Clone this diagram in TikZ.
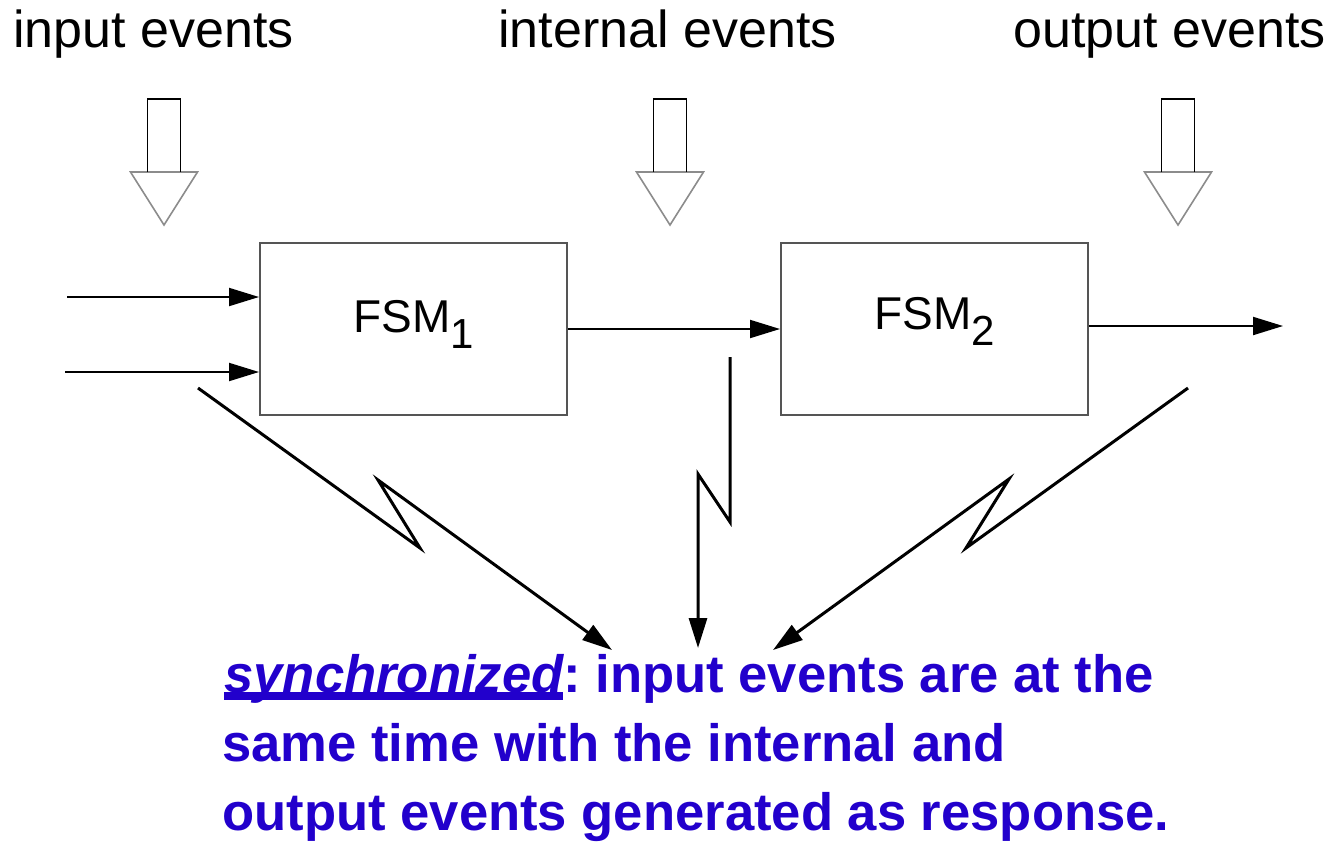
\documentclass[tikz,border=0pt]{standalone}
\usepackage{graphicx}
\usepackage{fontspec}
\setmainfont{Liberation Sans}
\usetikzlibrary{arrows.meta}
\definecolor{txtblue}{RGB}{34,0,204}
\definecolor{boxgray}{RGB}{85,85,85}
\definecolor{headgray}{RGB}{140,140,140}
\frenchspacing
\newcommand\myul[1]{\setbox0\hbox{#1}\rlap{\rule[-4pt]{\wd0}{4pt}}\box0}
\newcommand\fsmtext[1]{FSM\raisebox{-8pt}{\fontsize{21}{24}\selectfont #1}}
\begin{document}
\begin{tikzpicture}[x=0.5pt,y=-0.5pt,
  box/.style={draw=boxgray,line width=1pt,minimum width=153.5pt,minimum height=86pt,inner sep=0pt},
  lbl/.style={font=\fontsize{26}{30}\selectfont,anchor=base west,inner sep=0pt},
  fsm/.style={font=\fontsize{23}{26}\selectfont,anchor=base,inner sep=0pt},
  conn/.style={line width=1pt,-{Triangle[length=15pt,width=9pt]}},
  bolt/.style={line width=1.5pt,-{Triangle[length=15pt,width=9pt]},line join=miter},
  shaft/.style={line width=0.9pt,draw=black},
  hhead/.style={line width=0.8pt,draw=headgray,fill=white},
  note/.style={font=\fontsize{26.3}{34.5}\selectfont\bfseries,text=txtblue,anchor=base west,inner sep=0pt},
  hollowarrow/.pic={
    \draw[hhead] (-33.5,73) -- (33.5,73) -- (0,126) -- cycle;
    \draw[shaft] (-16.5,73) -- (-16.5,0) -- (16.5,0) -- (16.5,73);
  }
]
\useasboundingbox (0,0) rectangle (1336,841);

% top labels
\node[lbl] (tin)  at (13,47)  {input events};
\node[lbl] (tint) at (498,47) {internal events};
\node[lbl] (tout) at (1013,47) {output events};

% hollow arrows
\pic at (164,99) {hollowarrow};
\pic at (670,99) {hollowarrow};
\pic at (1178,99) {hollowarrow};

% boxes
\node[box] (f1) at (413.5,329) {};
\node[box] (f2) at (934.5,329) {};
\node[fsm] (l1) at (413.5,332) {\fsmtext{1}};
\node[fsm] (l2) at (934.5,329) {\fsmtext{2}};

% connectors
\coordinate (i1) at (67,297);
\coordinate (i2) at (65,372);
\coordinate (o)  at (1283,326);
\draw[conn] (i1) -- (i1 -| f1.west);
\draw[conn] (i2) -- (i2 -| f1.west);
\draw[conn] (f1.east) -- (f2.west);
\draw[conn] (o -| f2.east) -- (o);

% lightning arrows
\coordinate (a0) at (198,388);
\coordinate (a1) at (420,548);
\coordinate (a2) at (378,480);
\coordinate (a3) at (612,650);
\coordinate (b0) at (730,357);
\coordinate (b1) at (730,522);
\coordinate (b2) at (698,474);
\coordinate (b3) at (698,648);
\coordinate (c0) at (1188,388);
\coordinate (c1) at (966,548);
\coordinate (c2) at (1009,479);
\coordinate (c3) at (773,650);
\draw[bolt] (a0) -- (a1) -- (a2) -- (a3);
\draw[bolt] (b0) -- (b1) -- (b2) -- (b3);
\draw[bolt] (c0) -- (c1) -- (c2) -- (c3);

% note
\node[note] (n1) at (224,692) {\myul{\itshape synchronized}: input events are at the};
\node[note] (n2) at (222,761) {same time with the internal and};
\node[note] (n3) at (222,830) {output events generated as response.};
\end{tikzpicture}
\end{document}
